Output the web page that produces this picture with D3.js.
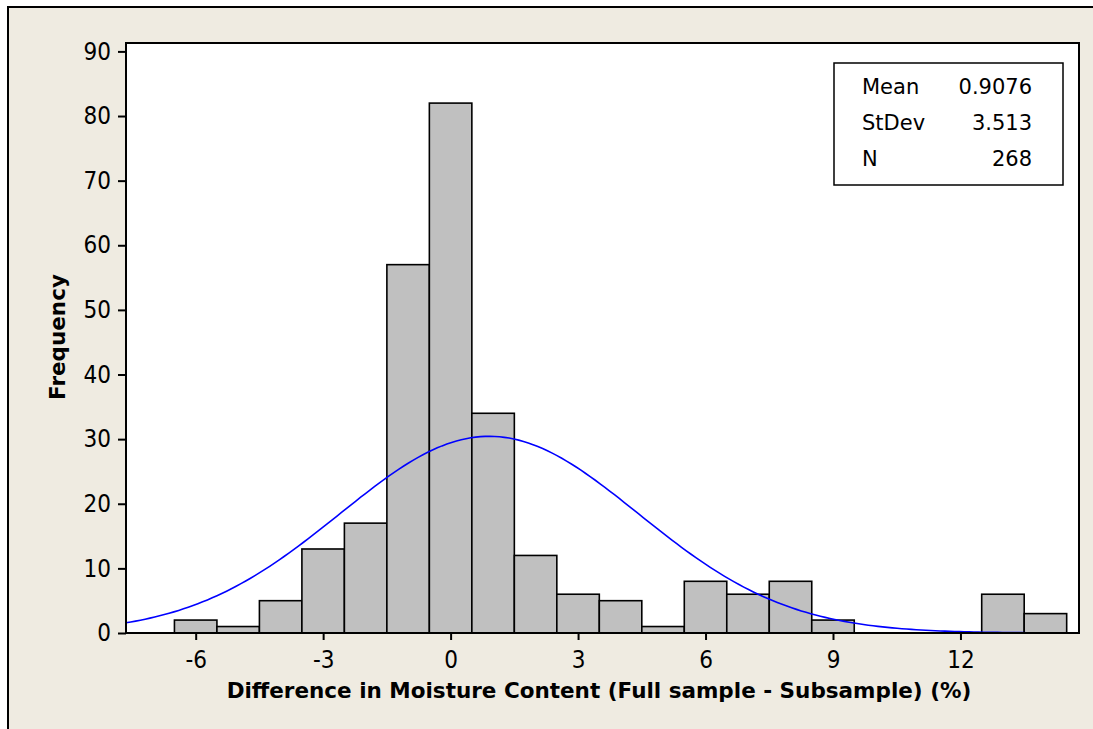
<!doctype html>
<html>
<head>
<meta charset="utf-8"/>
<style>
  html, body { margin: 0; padding: 0; background: #EFEBE1; overflow: hidden; }
  svg { display: block; }
  .tick text { font-family: "DejaVu Sans", sans-serif; font-stretch: condensed; font-size: 24px; fill: #000; }
  .axis path, .axis line { stroke: #000; stroke-width: 2; }
</style>
<script src="https://d3js.org/d3.v7.min.js"></script>
</head>
<body>
<svg width="1093" height="729"></svg>
<script>
// bin centres (width 1) and counts
var binCenters = [-6, -5, -4, -3, -2, -1, 0, 1, 2, 3, 4, 5, 6, 7, 8, 9, 10, 11, 12, 13, 14];
var counts     = [ 2,  1,  5, 13, 17, 57, 82, 34, 12, 6, 5, 1, 8, 6, 8, 2, 0, 0, 0, 6, 3];
var xTicks = [-6, -3, 0, 3, 6, 9, 12];
var yTicks = [0, 10, 20, 30, 40, 50, 60, 70, 80, 90];
var statLabels = ["Mean", "StDev", "N"];
var statValues = ["0.9076", "3.513", "268"];
var mean = 0.9076, stdev = 3.513, nObs = 268, binWidth = 1;

var svg = d3.select("svg");
var margin = {top: 43, right: 14, bottom: 96, left: 126};
var W = 1093, H = 729;
var width = W - margin.left - margin.right;
var height = H - margin.top - margin.bottom;

// white strip outside the graph frame, then the frame's top/left edges
svg.append("rect").attr("width", W).attr("height", 7).attr("fill", "#fff");
svg.append("rect").attr("width", 8).attr("height", H).attr("fill", "#fff");
svg.append("path")
    .attr("d", "M8," + H + "V7H" + W)
    .attr("fill", "none").attr("stroke", "#000").attr("stroke-width", 2);

var x = d3.scaleLinear().domain([-7.64, 14.79]).range([0, width]);
var y = d3.scaleLinear().domain([0, 91.3]).range([height, 0]);

var g = svg.append("g").attr("transform", "translate(" + margin.left + "," + margin.top + ")");

g.append("rect")
    .attr("width", width).attr("height", height)
    .attr("fill", "#fff");

// bars
g.append("g").selectAll("rect")
    .data(binCenters.map(function(c, i) { return {c: c, n: counts[i]}; }).filter(function(d) { return d.n > 0; }))
    .enter().append("rect")
    .attr("x", function(d) { return x(d.c - binWidth / 2); })
    .attr("y", function(d) { return y(d.n); })
    .attr("width", function(d) { return x(d.c + binWidth / 2) - x(d.c - binWidth / 2); })
    .attr("height", function(d) { return y(0) - y(d.n); })
    .attr("fill", "#C0C0C0")
    .attr("stroke", "#000")
    .attr("stroke-width", 1.6);

// fitted normal curve
var xs = d3.range(200).map(function(i) { return -7.64 + i * (14.79 + 7.64) / 199; });
var curve = xs.map(function(v) {
    var z = (v - mean) / stdev;
    return [v, nObs * binWidth * Math.exp(-0.5 * z * z) / (stdev * Math.sqrt(2 * Math.PI))];
});
g.append("path")
    .datum(curve)
    .attr("fill", "none")
    .attr("stroke", "#0000FF")
    .attr("stroke-width", 1.6)
    .attr("d", d3.line().x(function(d) { return x(d[0]); }).y(function(d) { return y(d[1]); }));

// plot border
g.append("rect")
    .attr("width", width).attr("height", height)
    .attr("fill", "none").attr("stroke", "#000").attr("stroke-width", 2);

var fmt = function(d) { return String(d); };

// axes
g.append("g")
    .attr("class", "axis")
    .attr("transform", "translate(0," + height + ")")
    .call(d3.axisBottom(x).tickValues(xTicks).tickFormat(fmt).tickSize(7).tickPadding(11).tickSizeOuter(0))
    .call(function(a) { a.select(".domain").remove(); });

g.append("g")
    .attr("class", "axis")
    .call(d3.axisLeft(y).tickValues(yTicks).tickFormat(fmt).tickSize(8).tickPadding(7).tickSizeOuter(0))
    .call(function(a) { a.select(".domain").remove(); });

// axis titles
svg.append("text")
    .attr("x", 599).attr("y", 698)
    .attr("text-anchor", "middle")
    .style("font-family", "DejaVu Sans, sans-serif")
    .style("font-weight", "bold")
    .style("font-size", "21.5px")
    .text("Difference in Moisture Content (Full sample - Subsample) (%)");

svg.append("text")
    .attr("transform", "translate(65,337) rotate(-90)")
    .attr("text-anchor", "middle")
    .style("font-family", "DejaVu Sans, sans-serif")
    .style("font-weight", "bold")
    .style("font-size", "21.5px")
    .text("Frequency");

// stats box
var box = svg.append("g").attr("transform", "translate(834,63)");
box.append("rect")
    .attr("width", 229).attr("height", 122)
    .attr("fill", "#fff").attr("stroke", "#000").attr("stroke-width", 1.5);
statLabels.forEach(function(lab, i) {
    box.append("text")
        .attr("x", 28).attr("y", 31 + i * 36)
        .style("font-family", "DejaVu Sans, sans-serif")
        .style("font-size", "21px")
        .text(lab);
    box.append("text")
        .attr("x", 198).attr("y", 31 + i * 36)
        .attr("text-anchor", "end")
        .style("font-family", "DejaVu Sans, sans-serif")
        .style("font-size", "21px")
        .text(statValues[i]);
});
</script>
</body>
</html>
